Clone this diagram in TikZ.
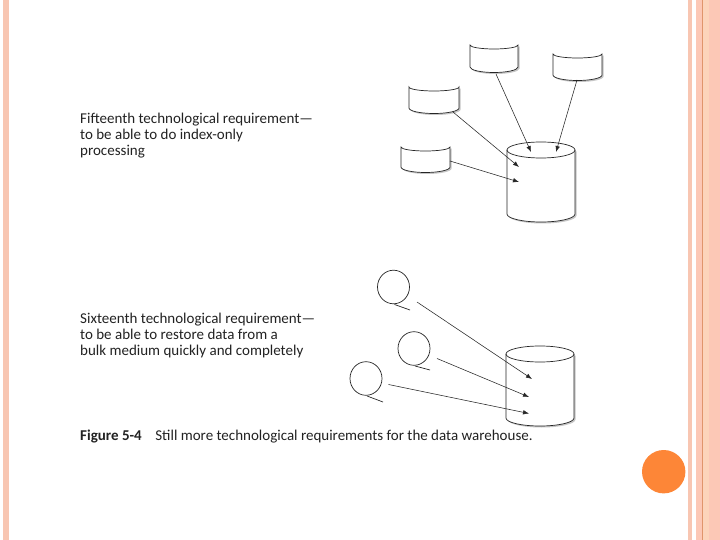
\documentclass[tikz,border=0pt]{standalone}
\usepackage{fontspec}
\setmainfont{Carlito}
\usetikzlibrary{arrows.meta}
\definecolor{stripe}{HTML}{F8C6B2}
\definecolor{stripeB}{HTML}{FCC8B6}
\definecolor{stripeline}{HTML}{E0956C}
\definecolor{dot}{HTML}{FD8637}
\definecolor{txt}{HTML}{222222}
\newcommand\dskshape[5]{% name, left x, top y, width, height
  \fill[gray!45] (#2+1.5,#3+1.5) arc[start angle=180,end angle=0,x radius=#4/2,y radius=4] -- ++(0,#5) arc[start angle=0,end angle=180,x radius=#4/2,y radius=5.5] -- cycle;
  \filldraw[shapeline,fill=white] (#2,#3) arc[start angle=180,end angle=0,x radius=#4/2,y radius=4] -- ++(0,#5) arc[start angle=0,end angle=180,x radius=#4/2,y radius=5.5] -- cycle;
  \coordinate (#1) at (#2+#4/2,#3+#5/2);
}
\newcommand\bigcyl[5]{% name, center x, top cy, rx, height
  \fill[gray!45] (#2-#4+1.5,#3+1.5) -- ++(0,#5) arc[start angle=180,end angle=360,x radius=#4,y radius=-8] -- ++(0,-#5) -- cycle;
  \fill[white] (#2-#4,#3) -- ++(0,#5) arc[start angle=180,end angle=360,x radius=#4,y radius=-8] -- ++(0,-#5) arc[start angle=0,end angle=180,x radius=#4,y radius=-8] -- cycle;
  \draw[shapeline] (#2-#4,#3) -- ++(0,#5) arc[start angle=180,end angle=360,x radius=#4,y radius=-8] -- ++(0,-#5);
  \draw[shapeline] (#2,#3) ellipse[x radius=#4,y radius=8];
  \coordinate (#1) at (#2,#3+#5/2);
}
\newcommand\reel[6]{% name, cx, cy, r, tail end x, tail end y
  \draw[shapeline] (#2,#3) ellipse[x radius=#4,y radius=#4+0.8];
  \draw[shapeline] (#2+1,#3+#4+1.5) -- (#5,#6);
  \coordinate (#1) at (#2,#3);
}
\tikzset{
  shapeline/.style={draw=black!85,line width=0.7pt},
  conn/.style={draw=black!85,line width=0.55pt,-{Latex[length=6pt,width=4.5pt]}},
  label/.style={anchor=base west,text=txt,font=\fontsize{15}{16}\selectfont,inner sep=0pt,align=left}
}
\begin{document}
\begin{tikzpicture}[x=1pt,y=-1pt]
\useasboundingbox (0,0) rectangle (720,540);
\fill[white] (0,0) rectangle (720,540);
% borders
\fill[stripe] (3,0) rectangle (9,540);
\fill[stripe] (688,0) rectangle (692,540);
\fill[stripeB] (696,0) rectangle (720,540);
\fill[stripe!80!orange!60] (703,0) rectangle (709,540);
\draw[stripeline,line width=0.9pt] (702.5,0) -- (702.5,540);
\fill[dot] (663.7,471.7) circle[radius=21.7];
% top group
\dskshape{A}{470}{45}{48}{22}
\dskshape{B}{553}{54}{49}{21}
\dskshape{C}{409}{87}{50}{21}
\dskshape{D}{401}{147}{49}{20}
\bigcyl{W1}{541}{150}{34}{64}
\coordinate (a1) at (496,74);
\coordinate (a2) at (531,152);
\coordinate (b1) at (577,80);
\coordinate (b2) at (556,152);
\coordinate (c1) at (453,112);
\coordinate (c2) at (519,167);
\coordinate (d1) at (450,161);
\coordinate (d2) at (519,182);
\draw[conn] (a1) -- (a2);
\draw[conn] (b1) -- (b2);
\draw[conn] (c1) -- (c2);
\draw[conn] (d1) -- (d2);
% bottom group
\reel{E}{393.5}{287}{16}{410}{310}
\reel{F}{414}{348.5}{16}{430}{370}
\reel{G}{366}{378.5}{16}{383}{402}
\bigcyl{W2}{540}{354}{34}{64}
\coordinate (e1) at (417,302);
\coordinate (e2) at (532,379);
\coordinate (f1) at (437,358.5);
\coordinate (f2) at (529,397);
\coordinate (g1) at (388.5,384.5);
\coordinate (g2) at (529,413.5);
\draw[conn] (e1) -- (e2);
\draw[conn] (f1) -- (f2);
\draw[conn] (g1) -- (g2);
% texts
\node[label] (t1) at (80,155.5) {Fifteenth technological requirement—\\to be able to do index-only\\processing};
\node[label] (t2) at (80,355) {Sixteenth technological requirement—\\to be able to restore data from a\\bulk medium quickly and completely};
\node[label] (cap) at (80,440) {\textbf{Figure 5-4}\hspace{0.9em}Still more technological requirements for the data warehouse.};
\end{tikzpicture}
\end{document}
